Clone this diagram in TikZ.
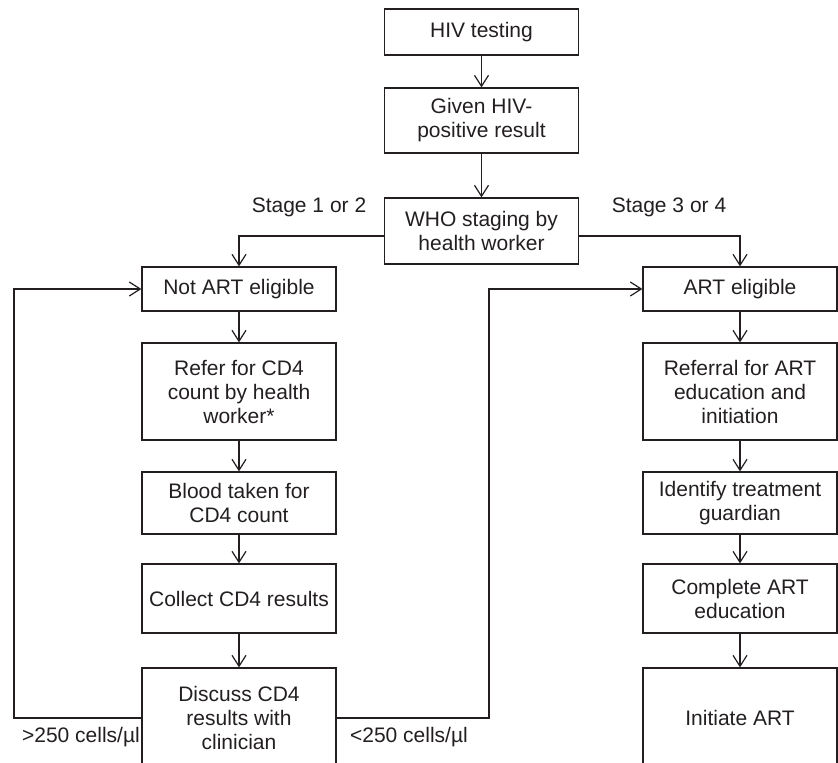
\documentclass[tikz,border=0pt]{standalone}
\usepackage{fontspec}
\setmainfont{Liberation Sans}
\usetikzlibrary{arrows.meta}
\definecolor{ink}{RGB}{35,31,32}

\begin{document}
\begin{tikzpicture}[
x=1pt, y=-1pt,
line width=1.2pt,
>={Straight Barb[length=11pt,width=14pt]},
font=\fontsize{21}{24}\selectfont
]

\tikzstyle{b} = [draw=ink, text=ink, shape=rectangle, align=center, minimum width=194pt, inner sep=2pt]
\tikzstyle{lab} = [text=ink, inner sep=0pt]
\tikzstyle{conn} = [draw=ink, ->]

\useasboundingbox (0,0) rectangle (838,763);
\clip (0,0) rectangle (838,763);

% main column
\node[b, minimum height=46pt] (test) at (481.5,32) {HIV testing};
\node[b, minimum height=65pt] (given) at (481.5,120.5) {Given HIV-\\positive result};
\node[b, minimum height=66pt] (who) at (481.5,231) {WHO staging by\\health worker};

% not eligible branch
\node[b, minimum height=44pt] (notart) at (239,289) {Not ART eligible};
\node[b, minimum height=97pt] (refer) at (239,391.5) {Refer for CD4\\count by health\\worker*};
\node[b, minimum height=62pt] (blood) at (239,503) {Blood taken for\\CD4 count};
\node[b, minimum height=69pt] (collect) at (239,598.5) {Collect CD4 results};
\node[b, minimum height=100pt] (discuss) at (239,718) {Discuss CD4\\results with\\clinician};

% eligible branch
\node[b, minimum height=44pt] (artel) at (740,289) {ART eligible};
\node[b, minimum height=97pt] (referral) at (740,391.5) {Referral for ART\\education and\\initiation};
\node[b, minimum height=62pt] (ident) at (740,503) {Identify treatment\\guardian};
\node[b, minimum height=69pt] (complete) at (740,598.5) {Complete ART\\education};
\node[b, minimum height=100pt] (initiate) at (740,718) {Initiate ART};

% branch labels
\node[lab] (st12) at (309,207) {Stage 1 or 2};
\node[lab] (st34) at (669,207) {Stage 3 or 4};
\node[lab] (hi) at (81,737) {>250 cells/µl};
\node[lab] (lo) at (409,737) {<250 cells/µl};

\coordinate (lbend) at (14,0);
\coordinate (rbend) at (489,0);

\draw[conn] (test) -- (given);
\draw[conn] (given) -- (who);
\draw[conn] ([yshift=-5pt]who.west) -| (notart);
\draw[conn] ([yshift=-5pt]who.east) -| (artel);
\foreach \a/\b in {notart/refer, refer/blood, blood/collect, collect/discuss,
                   artel/referral, referral/ident, ident/complete, complete/initiate}
  \draw[conn] (\a) -- (\b);

% feedback loops
\draw[conn] (discuss.west) -- (discuss.west -| lbend) |- (notart.west);
\draw[conn] (discuss.east) -- (discuss.east -| rbend) |- (artel.west);
\end{tikzpicture}
\end{document}
